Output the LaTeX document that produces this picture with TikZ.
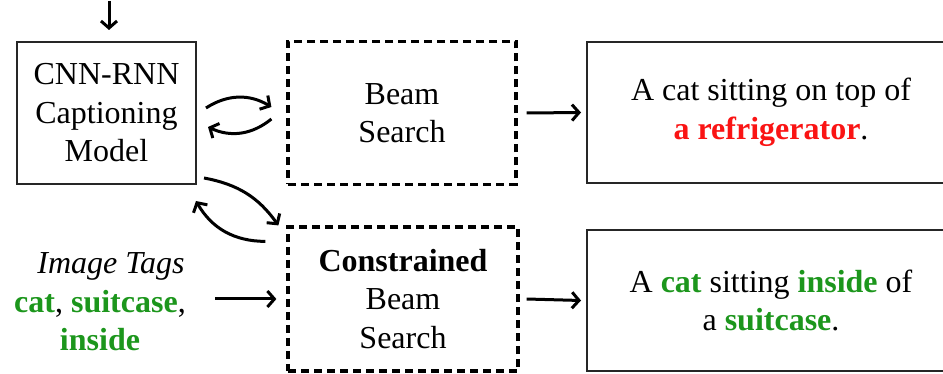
\documentclass[tikz,border=0pt]{standalone}
\usepackage{fontspec}
\setmainfont{Liberation Serif}
\usetikzlibrary{arrows.meta}
\definecolor{taggreen}{RGB}{28,150,28}
\definecolor{badred}{RGB}{250,20,20}
\tikzset{
  solidbox/.style={draw=black!85, line width=2pt, align=center, inner sep=0pt},
  dashbox/.style={draw=black, line width=3.2pt, dash pattern=on 8pt off 5pt, align=center, inner sep=0pt},
  arr/.style={line width=3pt, -{Straight Barb[length=7pt,width=16pt,line width=3pt]}},
  txt/.style={font=\fontsize{32}{38.5}\selectfont},
}
\begin{document}
\begin{tikzpicture}[x=1pt, y=-1pt, txt]
\useasboundingbox (0,0) rectangle (943,374);
\clip (0,0) rectangle (943,374);

% model and search boxes
\node[solidbox, minimum width=179pt, minimum height=142pt] (cnn) at (106.5,113)
  {CNN-RNN\\Captioning\\Model};
\node[dashbox, minimum width=228pt, minimum height=143pt] (beam) at (402,113)
  {Beam\\Search};
\node[dashbox, minimum width=230pt, minimum height=144pt] (cons) at (403,299)
  {\textbf{Constrained}\\Beam\\Search};

% caption boxes (run past the right edge)
\node[solidbox, minimum width=368pt, minimum height=141pt] (out1) at (771,112.5)
  {A cat sitting on top of\\\textcolor{badred}{\textbf{a refrigerator}}.};
\node[solidbox, minimum width=368pt, minimum height=141pt] (out2) at (771,300.5)
  {A \textcolor{taggreen}{\textbf{cat}} sitting \textcolor{taggreen}{\textbf{inside}} of\\a \textcolor{taggreen}{\textbf{suitcase}}.};

% image tags
\node[align=center, inner sep=0pt] (tags) at (100,302)
  {\hspace*{22pt}\textit{Image Tags}\\\textcolor{taggreen}{\textbf{cat}}, \textcolor{taggreen}{\textbf{suitcase}},\\\textcolor{taggreen}{\textbf{inside}}};

% connectors
\draw[arr] ([xshift=2.5pt,yshift=40pt]cnn.north) -- ([xshift=2.5pt,yshift=11pt]cnn.north);
\draw[arr] ([xshift=9pt,yshift=5pt]cnn.east) to[bend left=32] ([xshift=-15pt,yshift=6pt]beam.west);
\draw[arr] ([xshift=-15pt,yshift=-6pt]beam.west) to[bend left=32] ([xshift=11pt,yshift=-14pt]cnn.east);
\draw[arr] ([xshift=7pt,yshift=7pt]cnn.south east) to[bend left=22] ([xshift=-8pt,yshift=0pt]cons.north west);
\draw[arr] ([xshift=-21pt,yshift=-16pt]cons.north west) to[bend left=30] ([xshift=-1pt,yshift=-16pt]cnn.south east);
\draw[arr] ([xshift=-71pt]cons.west) -- ([xshift=-10pt]cons.west);
\draw[arr] ([xshift=9pt]beam.east) -- ([xshift=-5pt]out1.west);
\draw[arr] ([xshift=7pt]cons.east) -- ([xshift=-5pt]out2.west);
\end{tikzpicture}
\end{document}
